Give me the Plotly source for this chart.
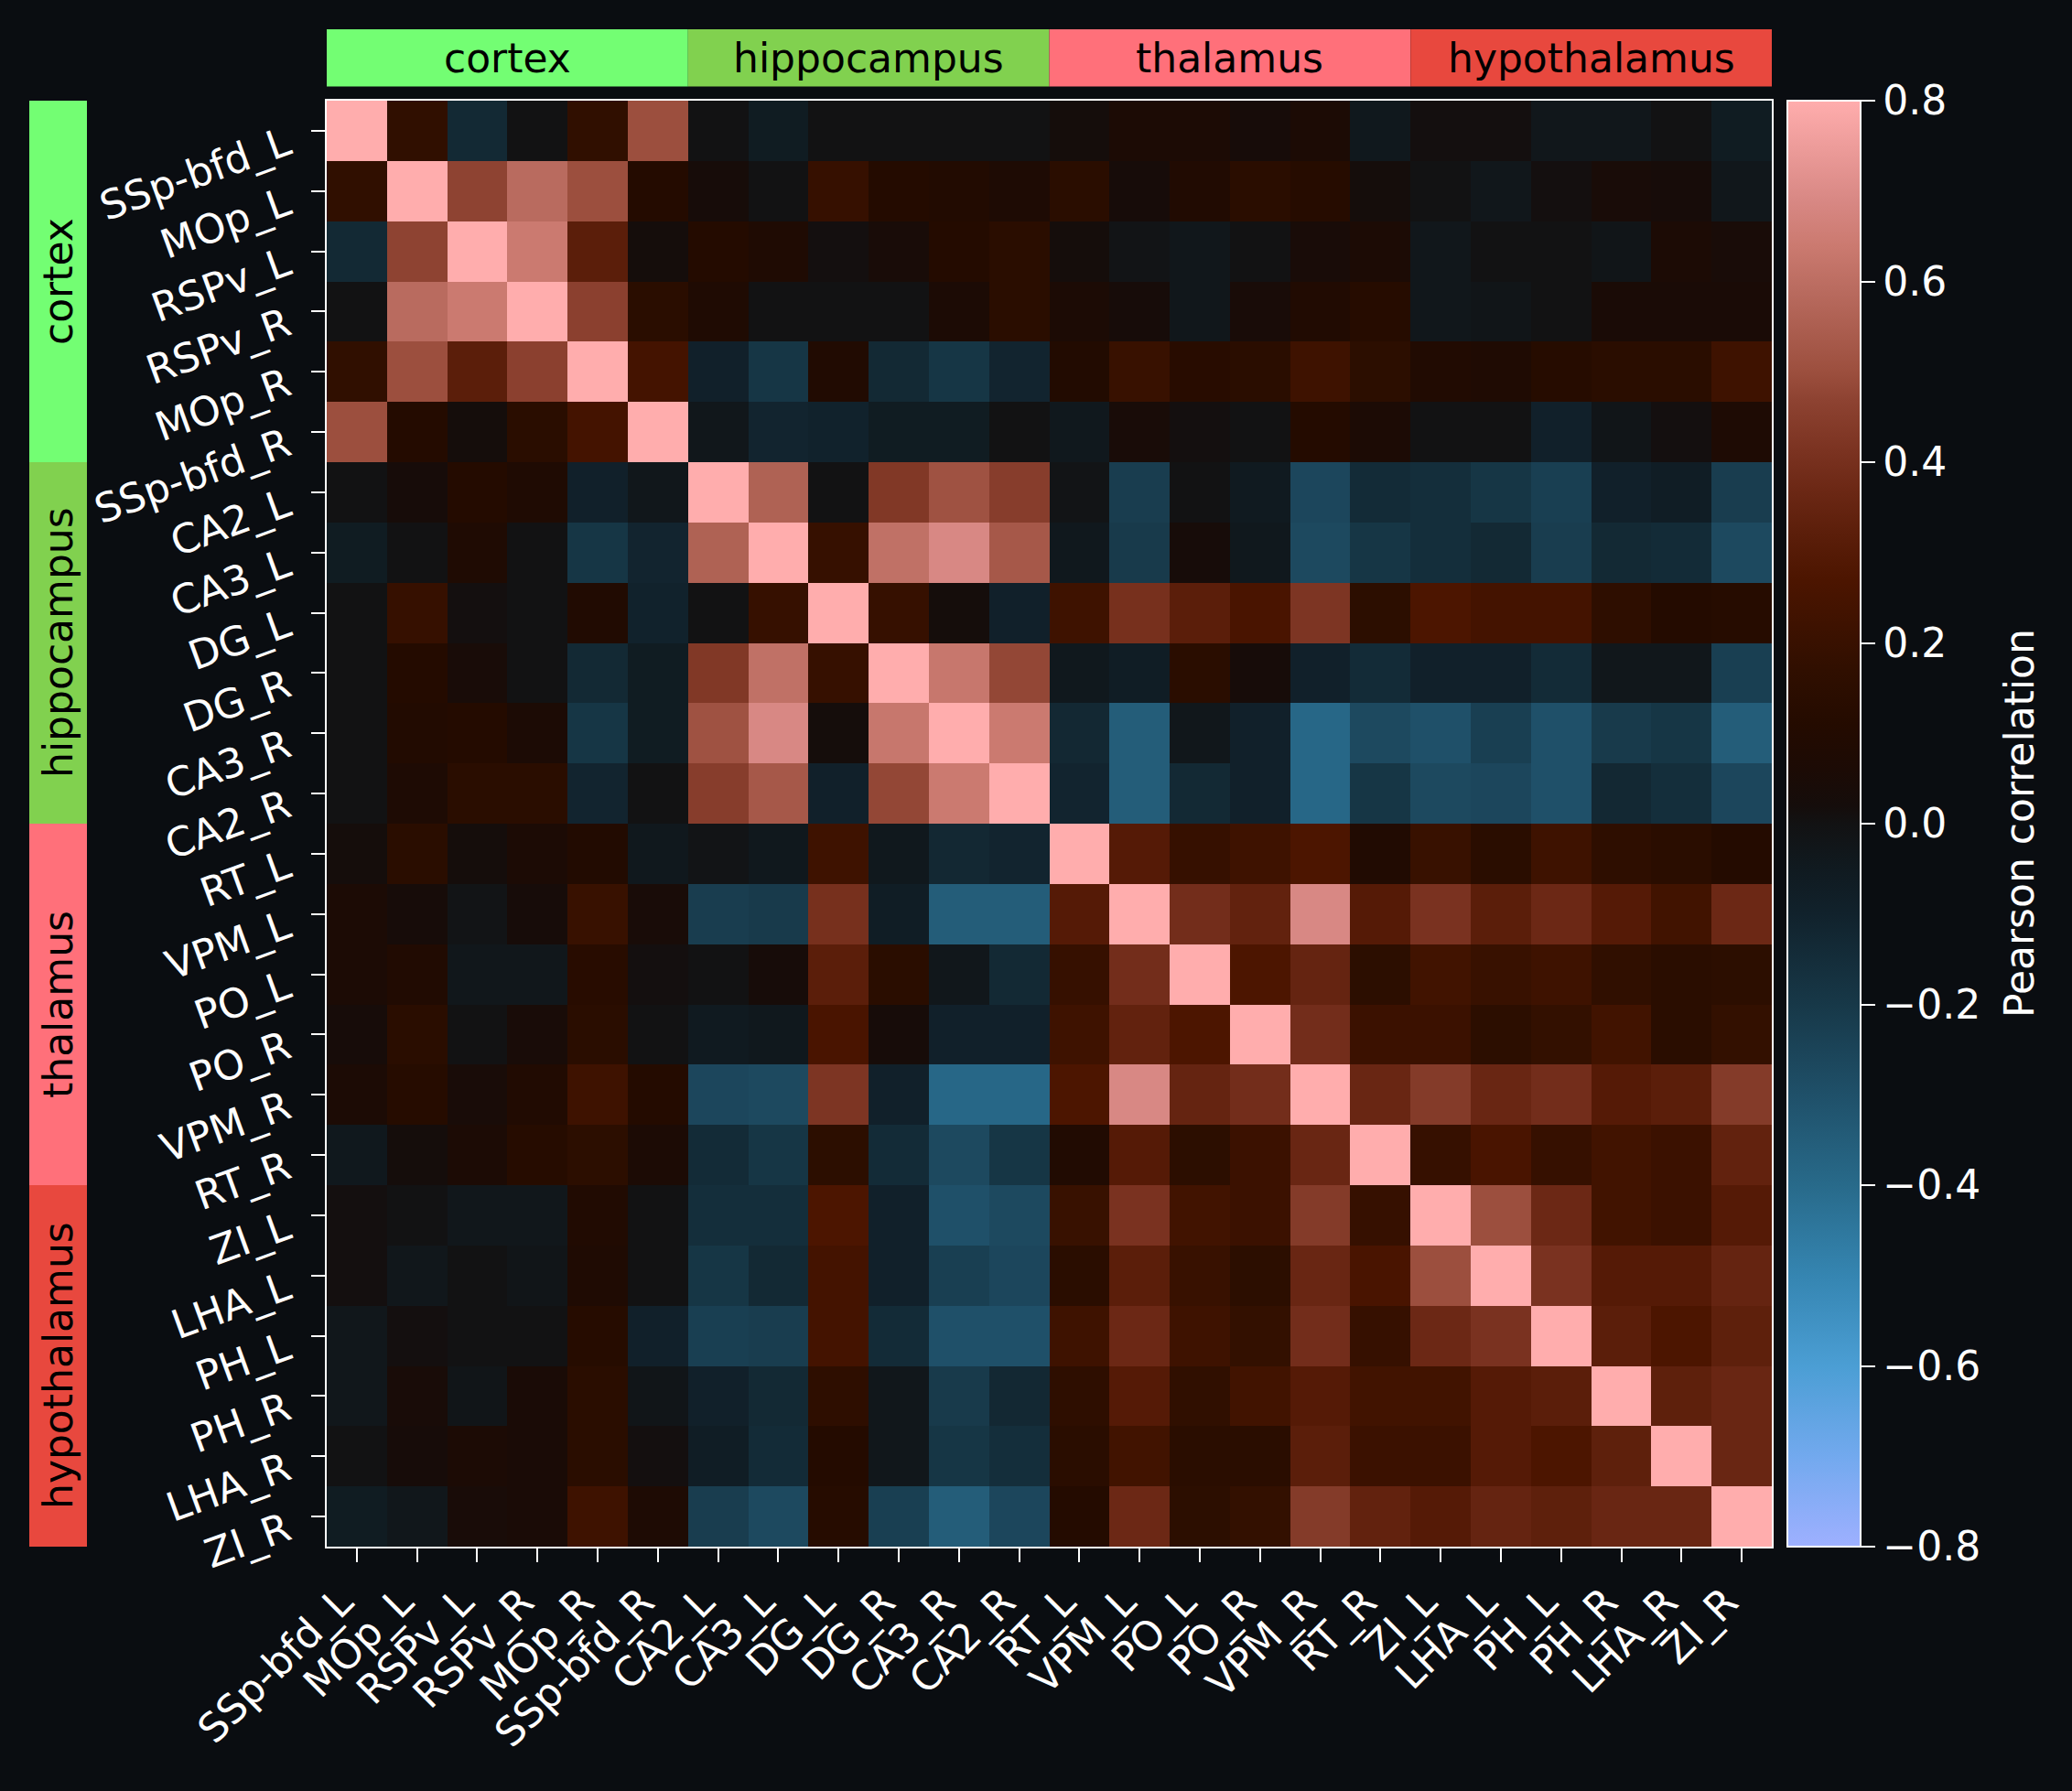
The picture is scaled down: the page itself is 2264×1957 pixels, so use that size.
import plotly.graph_objects as go

# ---------------- data ----------------
labels = ["SSp-bfd_L", "MOp_L", "RSPv_L", "RSPv_R", "MOp_R", "SSp-bfd_R",
          "CA2_L", "CA3_L", "DG_L", "DG_R", "CA3_R", "CA2_R",
          "RT_L", "VPM_L", "PO_L", "PO_R", "VPM_R", "RT_R",
          "ZI_L", "LHA_L", "PH_L", "PH_R", "LHA_R", "ZI_R"]

groups = ["cortex", "hippocampus", "thalamus", "hypothalamus"]
group_sizes = [6, 6, 6, 6]
group_colors = ["#73fe73", "#81d14f", "#ff707a", "#e8483e"]

r_SSp_bfd_L = [1.0, 0.17, -0.13, 0.0, 0.17, 0.5, 0.0, -0.06, 0.0, 0.0, 0.0, 0.0, 0.02, 0.06, 0.06, 0.03, 0.06, -0.04, 0.01, 0.01, -0.03, -0.03, 0.0, -0.06]
r_MOp_L = [0.17, 1.0, 0.47, 0.59, 0.5, 0.11, 0.03, 0.0, 0.19, 0.11, 0.1, 0.07, 0.14, 0.03, 0.09, 0.14, 0.12, 0.02, 0.0, -0.03, 0.01, 0.04, 0.03, -0.03]
r_RSPv_L = [-0.13, 0.47, 1.0, 0.64, 0.32, 0.02, 0.11, 0.08, 0.01, 0.04, 0.11, 0.14, 0.02, -0.01, -0.03, 0.0, 0.04, 0.06, -0.03, 0.0, 0.0, -0.02, 0.06, 0.04]
r_RSPv_R = [0.0, 0.59, 0.64, 1.0, 0.46, 0.14, 0.08, 0.0, 0.0, 0.0, 0.06, 0.14, 0.06, 0.03, -0.03, 0.04, 0.09, 0.12, -0.03, -0.02, 0.0, 0.05, 0.05, 0.05]
r_MOp_R = [0.17, 0.5, 0.32, 0.46, 1.0, 0.24, -0.09, -0.19, 0.09, -0.13, -0.19, -0.11, 0.1, 0.2, 0.13, 0.14, 0.22, 0.15, 0.09, 0.08, 0.12, 0.14, 0.14, 0.22]
r_SSp_bfd_R = [0.5, 0.11, 0.02, 0.14, 0.24, 1.0, -0.03, -0.11, -0.1, -0.06, -0.06, 0.0, -0.04, 0.04, 0.01, 0.0, 0.11, 0.06, 0.0, 0.0, -0.09, -0.02, 0.01, 0.07]
r_CA2_L = [0.0, 0.03, 0.11, 0.08, -0.09, -0.03, 1.0, 0.56, 0.0, 0.43, 0.51, 0.45, -0.01, -0.22, 0.0, -0.05, -0.26, -0.14, -0.155, -0.19, -0.23, -0.09, -0.07, -0.22]
r_CA3_L = [-0.06, 0.0, 0.08, 0.0, -0.19, -0.11, 0.56, 1.0, 0.19, 0.61, 0.69, 0.53, -0.04, -0.21, 0.03, -0.04, -0.27, -0.19, -0.155, -0.13, -0.22, -0.13, -0.14, -0.27]
r_DG_L = [0.0, 0.19, 0.01, 0.0, 0.09, -0.1, 0.0, 0.19, 1.0, 0.19, 0.02, -0.09, 0.22, 0.4, 0.32, 0.26, 0.42, 0.15, 0.27, 0.24, 0.24, 0.16, 0.11, 0.12]
r_DG_R = [0.0, 0.11, 0.04, 0.0, -0.13, -0.06, 0.43, 0.61, 0.19, 1.0, 0.63, 0.48, -0.04, -0.07, 0.14, 0.03, -0.09, -0.14, -0.09, -0.09, -0.14, -0.03, -0.03, -0.23]
r_CA3_R = [0.0, 0.1, 0.11, 0.06, -0.19, -0.06, 0.51, 0.69, 0.02, 0.63, 1.0, 0.64, -0.125, -0.35, -0.03, -0.09, -0.39, -0.27, -0.3, -0.23, -0.3, -0.21, -0.19, -0.35]
r_CA2_R = [0.0, 0.07, 0.14, 0.14, -0.11, 0.0, 0.45, 0.53, -0.09, 0.48, 0.64, 1.0, -0.11, -0.35, -0.13, -0.09, -0.39, -0.19, -0.27, -0.26, -0.3, -0.125, -0.155, -0.26]
r_RT_L = [0.02, 0.14, 0.02, 0.06, 0.1, -0.04, -0.01, -0.04, 0.22, -0.04, -0.125, -0.11, 1.0, 0.3, 0.19, 0.22, 0.27, 0.09, 0.2, 0.14, 0.22, 0.16, 0.14, 0.11]
r_VPM_L = [0.06, 0.03, -0.01, 0.03, 0.2, 0.04, -0.22, -0.21, 0.4, -0.07, -0.35, -0.35, 0.3, 1.0, 0.39, 0.34, 0.69, 0.3, 0.41, 0.32, 0.37, 0.3, 0.23, 0.37]
r_PO_L = [0.06, 0.09, -0.03, -0.03, 0.13, 0.01, 0.0, 0.03, 0.32, 0.14, -0.03, -0.13, 0.19, 0.39, 1.0, 0.27, 0.35, 0.15, 0.23, 0.2, 0.22, 0.17, 0.14, 0.15]
r_PO_R = [0.03, 0.14, 0.0, 0.04, 0.14, 0.0, -0.05, -0.04, 0.26, 0.03, -0.09, -0.09, 0.22, 0.34, 0.27, 1.0, 0.39, 0.21, 0.21, 0.15, 0.18, 0.23, 0.14, 0.18]
r_VPM_R = [0.06, 0.12, 0.04, 0.09, 0.22, 0.11, -0.26, -0.27, 0.42, -0.09, -0.39, -0.39, 0.27, 0.69, 0.35, 0.39, 1.0, 0.36, 0.44, 0.36, 0.39, 0.3, 0.32, 0.44]
r_RT_R = [-0.04, 0.02, 0.06, 0.12, 0.15, 0.06, -0.14, -0.19, 0.15, -0.14, -0.27, -0.19, 0.09, 0.3, 0.15, 0.21, 0.36, 1.0, 0.19, 0.26, 0.19, 0.23, 0.21, 0.34]
r_ZI_L = [0.01, 0.0, -0.03, -0.03, 0.09, 0.0, -0.155, -0.155, 0.27, -0.09, -0.3, -0.27, 0.2, 0.41, 0.23, 0.21, 0.44, 0.19, 1.0, 0.5, 0.37, 0.23, 0.21, 0.3]
r_LHA_L = [0.01, -0.03, 0.0, -0.02, 0.08, 0.0, -0.19, -0.13, 0.24, -0.09, -0.23, -0.26, 0.14, 0.32, 0.2, 0.15, 0.36, 0.26, 0.5, 1.0, 0.41, 0.3, 0.3, 0.35]
r_PH_L = [-0.03, 0.01, 0.0, 0.0, 0.12, -0.09, -0.23, -0.22, 0.24, -0.14, -0.3, -0.3, 0.22, 0.37, 0.22, 0.18, 0.39, 0.19, 0.37, 0.41, 1.0, 0.32, 0.27, 0.33]
r_PH_R = [-0.03, 0.04, -0.02, 0.05, 0.14, -0.02, -0.09, -0.13, 0.16, -0.03, -0.21, -0.125, 0.16, 0.3, 0.17, 0.23, 0.3, 0.23, 0.23, 0.3, 0.32, 1.0, 0.33, 0.36]
r_LHA_R = [0.0, 0.03, 0.06, 0.05, 0.14, 0.01, -0.07, -0.14, 0.11, -0.03, -0.19, -0.155, 0.14, 0.23, 0.14, 0.14, 0.32, 0.21, 0.21, 0.3, 0.27, 0.33, 1.0, 0.36]
r_ZI_R = [-0.06, -0.03, 0.04, 0.05, 0.22, 0.07, -0.22, -0.27, 0.12, -0.23, -0.35, -0.26, 0.11, 0.37, 0.15, 0.18, 0.44, 0.34, 0.3, 0.35, 0.33, 0.36, 0.36, 1.0]

corr = [r_SSp_bfd_L, r_MOp_L, r_RSPv_L, r_RSPv_R, r_MOp_R, r_SSp_bfd_R,
        r_CA2_L, r_CA3_L, r_DG_L, r_DG_R, r_CA3_R, r_CA2_R,
        r_RT_L, r_VPM_L, r_PO_L, r_PO_R, r_VPM_R, r_RT_R,
        r_ZI_L, r_LHA_L, r_PH_L, r_PH_R, r_LHA_R, r_ZI_R]

cbar_ticks = [-0.8, -0.6, -0.4, -0.2, 0.0, 0.2, 0.4, 0.6, 0.8]
cbar_title = "Pearson correlation"

# ---------------- style ----------------
ZMIN, ZMAX = -0.8, 0.8
cmap_stops = [
    (-0.8, "#9eb0ff"), (-0.7, "#72a9ee"), (-0.6, "#4b9ed4"), (-0.5, "#3585b1"),
    (-0.4, "#286a8a"), (-0.3, "#1f5069"), (-0.2, "#173848"), (-0.1, "#11222c"),
    (-0.05, "#101a20"), (0.0, "#121213"), (0.02, "#150d0b"), (0.06, "#1c0b05"),
    (0.11, "#240b00"), (0.17, "#300f00"), (0.22, "#3e1200"), (0.27, "#4c1500"),
    (0.32, "#5b1e0a"), (0.37, "#6c2815"), (0.41, "#7a3220"), (0.47, "#8e4332"),
    (0.5, "#9c4f3e"), (0.59, "#b96b5f"), (0.64, "#cb7a70"), (0.69, "#d88884"),
    (0.8, "#ffadad"),
]
colorscale = [[(v - ZMIN) / (ZMAX - ZMIN), c] for v, c in cmap_stops]

BG = "#0a0d11"
FONT = "DejaVu Sans"
FS = 44
W, H = 2264, 1957

# pixel layout
HX0, HX1 = 357, 1936
HY0, HY1 = 110, 1690
xdom = [HX0 / W, HX1 / W]
ydom = [1 - HY1 / H, 1 - HY0 / H]

fig = go.Figure()
fig.add_trace(go.Heatmap(
    z=corr, x=list(range(len(labels))), y=list(range(len(labels))),
    colorscale=colorscale, zmin=ZMIN, zmax=ZMAX,
    colorbar=dict(
        x=1953 / W, xanchor="left", xpad=0,
        y=1 - (HY0 + HY1) / 2 / H, yanchor="middle", ypad=0,
        len=HY1 - HY0, lenmode="pixels",
        thickness=80, thicknessmode="pixels",
        outlinecolor="white", outlinewidth=2,
        ticks="outside", ticklen=15, tickwidth=2, tickcolor="white",
        tickvals=cbar_ticks, tickformat=".1f",
        tickfont=dict(family=FONT, size=FS, color="white"),
    ),
    hoverongaps=False,
))

axis_common = dict(
    tickmode="array", tickvals=list(range(len(labels))), ticktext=labels,
    ticks="outside", ticklen=15, tickwidth=2, tickcolor="white",
    showline=True, linecolor="white", linewidth=2, mirror=True,
    showgrid=False, zeroline=False, automargin=False,
    tickfont=dict(family=FONT, size=FS, color="white"),
)

fig.update_layout(
    template="none",
    width=W, height=H,
    margin=dict(l=0, r=0, t=0, b=0, autoexpand=False),
    paper_bgcolor=BG, plot_bgcolor=BG,
    xaxis=dict(domain=xdom, range=[-0.5, len(labels) - 0.5], tickangle=-45,
               ticklabelshift=-17, **axis_common),
    yaxis=dict(domain=ydom, range=[len(labels) - 0.5, -0.5], tickangle=-20,
               ticklabelstandoff=18, ticklabelshift=-10, **axis_common),
    showlegend=False,
)

# colorbar title
fig.add_annotation(xref="paper", yref="paper", x=2207 / W, y=1 - (HY0 + HY1) / 2 / H,
                   text=cbar_title, showarrow=False, textangle=-90,
                   xanchor="center", yanchor="middle",
                   font=dict(family=FONT, size=FS, color="white"))

# group bars (top and left) drawn in data coordinates of the heatmap axes
top_y0, top_y1 = 1 - 94.6 / H, 1 - 32 / H
left_x0, left_x1 = 32 / W, 95 / W
start = 0
for name, size, col in zip(groups, group_sizes, group_colors):
    a, b = start - 0.5, start + size - 0.5
    fig.add_shape(type="rect", xref="x", yref="paper", x0=a, x1=b, y0=top_y0, y1=top_y1,
                  fillcolor=col, line=dict(width=0))
    fig.add_shape(type="rect", xref="paper", yref="y", x0=left_x0, x1=left_x1, y0=a, y1=b,
                  fillcolor=col, line=dict(width=0))
    fig.add_annotation(xref="x", yref="paper", x=(a + b) / 2, y=(top_y0 + top_y1) / 2,
                       text=name, showarrow=False, xanchor="center", yanchor="middle",
                       font=dict(family=FONT, size=FS, color="black"))
    fig.add_annotation(xref="paper", yref="y", x=(left_x0 + left_x1) / 2, y=(a + b) / 2,
                       text=name, showarrow=False, textangle=-90, xanchor="center", yanchor="middle",
                       font=dict(family=FONT, size=FS, color="black"))
    start += size

fig.write_html("out.html")
